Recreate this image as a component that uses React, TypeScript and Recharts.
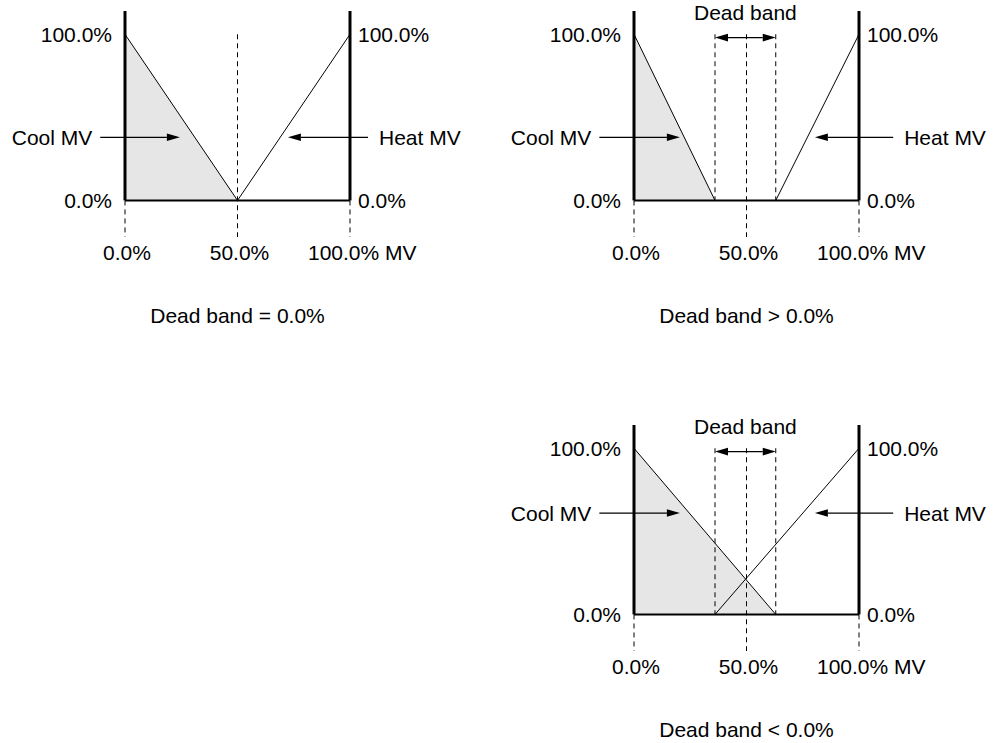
import { ComposedChart, Area, Line, XAxis, YAxis, ReferenceLine } from "recharts";

const FONT = '"Liberation Sans", Arial, Helvetica, sans-serif';
const INK = "#000";
const SHADE = "#e6e6e6";

// axes
const mvTicks = [0, 50, 100];
const mvTickLabels = ["0.0%", "50.0%", "100.0% MV"];
const outTicks = [0, 100];
const outDomain = [-22, 114];

// MV lines per case (mv = MV %, pct = output %)
const coolZero = [{ mv: 0, pct: 100 }, { mv: 50, pct: 0 }];
const heatZero = [{ mv: 50, pct: 0 }, { mv: 100, pct: 100 }];
const coolPos = [{ mv: 0, pct: 100 }, { mv: 36, pct: 0 }];
const heatPos = [{ mv: 63, pct: 0 }, { mv: 100, pct: 100 }];
const coolNeg = [{ mv: 0, pct: 100 }, { mv: 63, pct: 0 }];
const heatNeg = [{ mv: 36, pct: 0 }, { mv: 100, pct: 100 }];

const bandEdges = [36, 63];

// arrow shafts: [from, to] in MV %, and height in %
const coolArrowZero = [-11, 24.4];
const heatArrowZero = [108, 72.4];
const coolArrowBand = [-15.4, 20.4];
const heatArrowBand = [115.2, 80.4];
const arrowHeights = [38, 38, 61];
const bandArrowHeight = 98;

const titles = ["Dead band = 0.0%", "Dead band > 0.0%", "Dead band < 0.0%"];

const HEAD_LEN = 13;
const HEAD_W = 3.8;

function headPoints(tx: number, ty: number, ux: number, uy: number) {
  const bx = tx - ux * HEAD_LEN;
  const by = ty - uy * HEAD_LEN;
  return `${tx},${ty} ${bx - uy * HEAD_W},${by + ux * HEAD_W} ${bx + uy * HEAD_W},${by - ux * HEAD_W}`;
}

function arrowShape(both: boolean) {
  return (p: any) => {
    const x1 = Number(p.x1), y1 = Number(p.y1), x2 = Number(p.x2), y2 = Number(p.y2);
    const len = Math.hypot(x2 - x1, y2 - y1) || 1;
    const ux = (x2 - x1) / len;
    const uy = (y2 - y1) / len;
    const sx = both ? x1 + ux * HEAD_LEN : x1;
    const sy = both ? y1 + uy * HEAD_LEN : y1;
    return (
      <g>
        <line x1={sx} y1={sy} x2={x2 - ux * HEAD_LEN} y2={y2 - uy * HEAD_LEN} stroke={INK} strokeWidth={1.2} />
        <polygon points={headPoints(x2, y2, ux, uy)} fill={INK} />
        {both && <polygon points={headPoints(x1, y1, -ux, -uy)} fill={INK} />}
      </g>
    );
  };
}

const MvTick = (props: any) => {
  const { x, y, payload } = props;
  const i = mvTicks.indexOf(payload.value);
  const last = i === mvTicks.length - 1;
  return (
    <text
      x={last ? x - 42 : x + 2}
      y={y}
      dy="0.71em"
      textAnchor={last ? "start" : "middle"}
      fill={INK}
      fontSize={21}
    >
      {mvTickLabels[i]}
    </text>
  );
};

const fmtPct = (v: number) => `${v.toFixed(1)}%`;

interface PanelProps {
  cool: { mv: number; pct: number }[];
  heat: { mv: number; pct: number }[];
  coolArrow: number[];
  heatArrow: number[];
  arrowY: number;
  band: boolean;
  title: string;
  left: number;
  top: number;
}

function Panel({ cool, heat, coolArrow, heatArrow, arrowY, band, title, left, top }: PanelProps) {
  const dashed = { stroke: INK, strokeWidth: 1, strokeDasharray: "5 4", yAxisId: "l" };
  return (
    <div style={{ position: "absolute", left, top }}>
      <ComposedChart width={490} height={340} margin={{ top: 11, right: 0, bottom: 3, left: 0 }}>
        <XAxis
          type="number"
          dataKey="mv"
          domain={[0, 100]}
          ticks={mvTicks}
          axisLine={false}
          tickLine={false}
          tick={<MvTick />}
          height={100}
          interval={0}
          label={{ value: title, position: "insideBottom", offset: 14, fill: INK, fontSize: 21 }}
        />
        <YAxis
          yAxisId="l"
          type="number"
          domain={outDomain}
          ticks={outTicks}
          tickFormatter={fmtPct}
          axisLine={false}
          tickLine={false}
          tickMargin={7}
          width={125}
          interval={0}
          tick={{ fill: INK, fontSize: 21 }}
        />
        <YAxis
          yAxisId="r"
          orientation="right"
          type="number"
          domain={outDomain}
          ticks={outTicks}
          tickFormatter={fmtPct}
          axisLine={false}
          tickLine={false}
          width={140}
          interval={0}
          tick={{ fill: INK, fontSize: 21 }}
        />
        <Area
          yAxisId="l"
          data={cool}
          dataKey="pct"
          type="linear"
          baseValue={0}
          fill={SHADE}
          fillOpacity={1}
          stroke={INK}
          strokeWidth={1}
          dot={false}
          activeDot={false}
          isAnimationActive={false}
        />
        <Line
          yAxisId="r"
          data={heat}
          dataKey="pct"
          type="linear"
          stroke={INK}
          strokeWidth={1}
          dot={false}
          activeDot={false}
          isAnimationActive={false}
        />
        {/* dashed guides */}
        <ReferenceLine {...dashed} segment={[{ x: 50, y: 100 }, { x: 50, y: outDomain[0] }]} />
        <ReferenceLine {...dashed} segment={[{ x: 0, y: 0 }, { x: 0, y: outDomain[0] }]} />
        <ReferenceLine {...dashed} segment={[{ x: 100, y: 0 }, { x: 100, y: outDomain[0] }]} />
        {band &&
          bandEdges.map((e) => (
            <ReferenceLine key={e} {...dashed} segment={[{ x: e, y: 100 }, { x: e, y: 0 }]} />
          ))}
        {/* frame */}
        <ReferenceLine yAxisId="l" stroke={INK} strokeWidth={2} segment={[{ x: 0, y: 0 }, { x: 100, y: 0 }]} />
        <ReferenceLine yAxisId="l" stroke={INK} strokeWidth={3} segment={[{ x: 0, y: 0 }, { x: 0, y: outDomain[1] }]} />
        <ReferenceLine yAxisId="l" stroke={INK} strokeWidth={3} segment={[{ x: 100, y: 0 }, { x: 100, y: outDomain[1] }]} />
        {/* arrows */}
        <ReferenceLine
          yAxisId="l"
          ifOverflow="visible"
          segment={[{ x: coolArrow[0], y: arrowY }, { x: coolArrow[1], y: arrowY }]}
          shape={arrowShape(false)}
          label={{ value: "Cool MV", position: "left", offset: 8, fill: INK, fontSize: 21 }}
        />
        <ReferenceLine
          yAxisId="l"
          ifOverflow="visible"
          segment={[{ x: heatArrow[0], y: arrowY }, { x: heatArrow[1], y: arrowY }]}
          shape={arrowShape(false)}
          label={{ value: "Heat MV", position: "right", offset: 11, fill: INK, fontSize: 21 }}
        />
        {band && (
          <ReferenceLine
            yAxisId="l"
            ifOverflow="visible"
            segment={[{ x: bandEdges[0], y: bandArrowHeight }, { x: bandEdges[1], y: bandArrowHeight }]}
            shape={arrowShape(true)}
            label={{ value: "Dead band", position: "top", offset: 18, fill: INK, fontSize: 21 }}
          />
        )}
      </ComposedChart>
    </div>
  );
}

export default function App() {
  return (
    <div
      style={{
        position: "absolute",
        left: 0,
        top: 0,
        width: 999,
        height: 743,
        background: "#fff",
        fontFamily: FONT,
        fontSize: 21,
        overflow: "hidden",
      }}
    >
      <Panel
        cool={coolZero}
        heat={heatZero}
        coolArrow={coolArrowZero}
        heatArrow={heatArrowZero}
        arrowY={arrowHeights[0]}
        band={false}
        title={titles[0]}
        left={0}
        top={0}
      />
      <Panel
        cool={coolPos}
        heat={heatPos}
        coolArrow={coolArrowBand}
        heatArrow={heatArrowBand}
        arrowY={arrowHeights[1]}
        band={true}
        title={titles[1]}
        left={509}
        top={0}
      />
      <Panel
        cool={coolNeg}
        heat={heatNeg}
        coolArrow={coolArrowBand}
        heatArrow={heatArrowBand}
        arrowY={arrowHeights[2]}
        band={true}
        title={titles[2]}
        left={509}
        top={414}
      />
    </div>
  );
}
